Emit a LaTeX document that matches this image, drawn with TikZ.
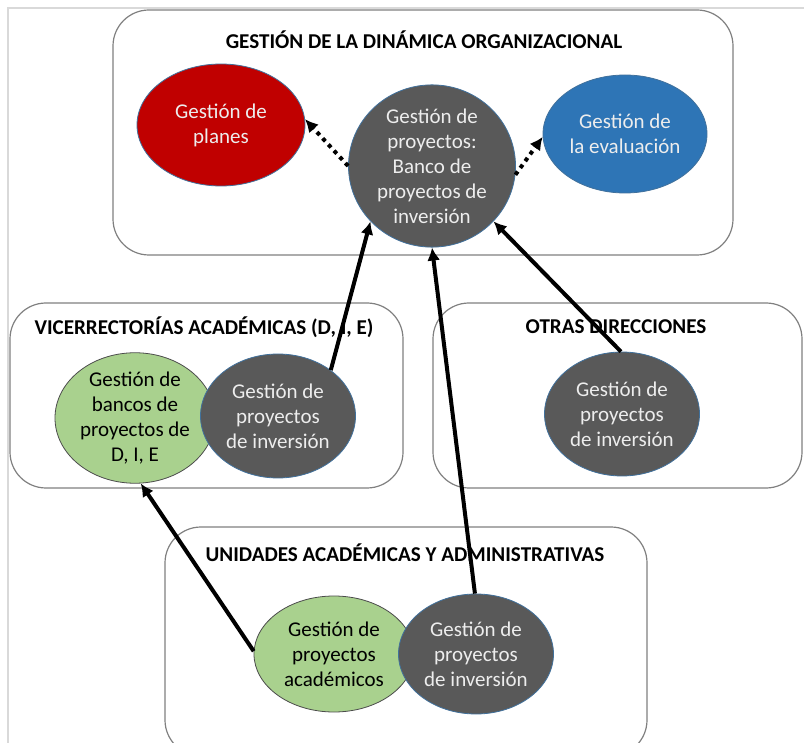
\documentclass[tikz,border=0pt]{standalone}
\usepackage{fontspec}
\setmainfont{Carlito}
\usepackage{tikz}
\usetikzlibrary{shapes.geometric}
\usetikzlibrary{arrows.meta}

\definecolor{rojo}{HTML}{C00000}
\definecolor{azul}{HTML}{2E75B6}
\definecolor{gris}{HTML}{595959}
\definecolor{verde}{HTML}{A9D18E}
\definecolor{borde}{HTML}{41719C}
\definecolor{claro}{HTML}{EDEDED}

\tikzset{
	grupo/.style={draw=black!50, line width=0.6pt, rounded corners=18pt},
	titulo/.style={font=\bfseries\fontsize{10.55}{12.5}\selectfont, inner sep=0pt},
	burbuja/.style={ellipse, draw=borde, line width=0.4pt, align=center, inner sep=0pt, font=\fontsize{10.5}{12.5}\selectfont},
	flecha/.style={-{Latex[length=6.5pt,width=6.5pt]}, line width=2pt},
	punteada/.style={-{Latex[length=6.5pt,width=6.5pt]}, line width=2pt, dash pattern=on 2pt off 2.2pt}
}

\begin{document}
\begin{tikzpicture}[x=0.5pt, y=-0.5pt]
	\clip (0,0) rectangle (804,743);
	\fill[white] (0,0) rectangle (804,743);
	\draw[black!15, line width=1pt] (8,743) -- (8,8) -- (804,8);

	% cajas
	\draw[grupo] (113,10) rectangle (733,255);
	\draw[grupo] (10,303) rectangle (403,488);
	\draw[grupo] (433,303) rectangle (802,488);
	\draw[grupo] (165,527) rectangle (647,756);

	\node[titulo] at (424,40) (tDinamica) {GESTIÓN DE LA DINÁMICA ORGANIZACIONAL};
	\node[titulo] at (204,327) (tVice) {VICERRECTORÍAS ACADÉMICAS (D, I, E)};
	\node[titulo] at (616,327) (tOtras) {OTRAS DIRECCIONES};
	\node[titulo] at (405,553) (tUnidades) {UNIDADES ACADÉMICAS Y ADMINISTRATIVAS};

	% gestion de la dinamica
	\node[burbuja, fill=rojo, text=claro, minimum width=84pt, minimum height=61pt] at (221,125) (planes) {Gestión de\\planes};
	\node[burbuja, fill=gris, text=claro, minimum width=83.5pt, minimum height=71.5pt] at (432,166) (banco) {Gestión de\\proyectos:\\Banco de\\proyectos de\\inversión};
	\node[burbuja, fill=azul, text=claro, minimum width=82pt, minimum height=59pt] at (625,134) (evaluacion) {Gestión de\\la evaluación};

	% vicerrectorias
	\node[burbuja, fill=verde, draw=black!70, minimum width=80pt, minimum height=60pt] at (135,418) (bancosDIE) {Gestión de\\bancos de\\proyectos de\\D, I, E};
	\node[burbuja, fill=gris, text=claro, minimum width=77.5pt, minimum height=62pt] at (278,416) (inversionV) {Gestión de\\proyectos\\de inversión};

	% otras direcciones
	\node[burbuja, fill=gris, text=claro, minimum width=77.5pt, minimum height=62pt] at (622,414) (inversionO) {Gestión de\\proyectos\\de inversión};

	% unidades
	\node[burbuja, fill=verde, draw=black!70, minimum width=80pt, minimum height=58pt] at (334,654) (academicos) {Gestión de\\proyectos\\académicos};
	\node[burbuja, fill=gris, text=claro, minimum width=77.5pt, minimum height=60pt] at (476,654) (inversionU) {Gestión de\\proyectos\\de inversión};

	\draw[punteada] (banco.180) -- (planes.4);
	\draw[punteada] (banco.354) -- (evaluacion.182);
	\draw[flecha] (inversionV.41) -- (banco.222);
	\draw[flecha] (inversionU.91) -- (banco.270);
	\draw[flecha] (inversionO.91) -- (banco.318);
	\draw[flecha] (academicos.178) -- (bancosDIE.275);
\end{tikzpicture}
\end{document}
